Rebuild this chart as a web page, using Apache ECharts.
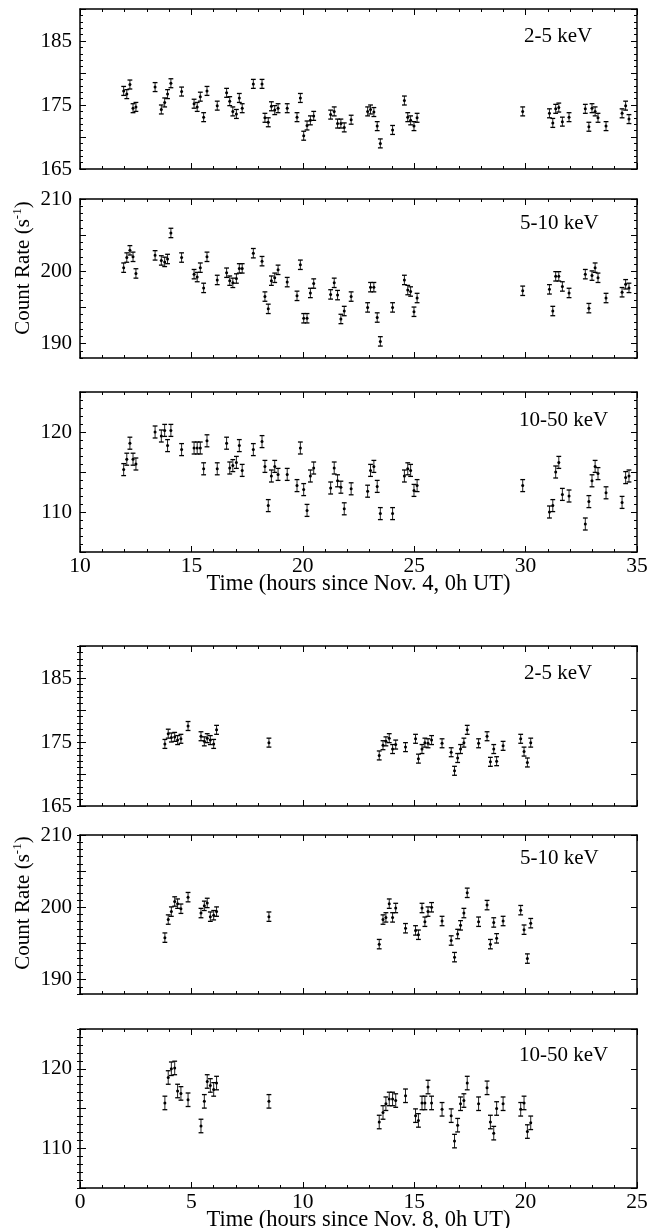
<!DOCTYPE html>
<html>
<head>
<meta charset="utf-8">
<title>X-ray light curves, Nov. 4 and Nov. 8</title>
<script src="https://cdn.jsdelivr.net/npm/echarts@6/dist/echarts.min.js"></script>
<style>
  html, body { margin: 0; padding: 0; background: #fff; }
  #chart { width: 649px; height: 1228px; }
</style>
</head>
<body>
<div id="chart"></div>
<script>
// ---- Nov. 4 observation (hours since Nov. 4, 0h UT) ----
const timeNov4 = [11.96, 12.10, 12.24, 12.38, 12.51, 13.37, 13.65, 13.80, 13.93, 14.08,
  14.56, 15.12, 15.26, 15.40, 15.55, 15.70, 16.16, 16.58, 16.72, 16.86,
  17.02, 17.15, 17.28, 17.78, 18.17, 18.30, 18.45, 18.59, 18.74, 18.89,
  19.30, 19.74, 19.89, 20.04, 20.19, 20.34, 20.49, 21.25, 21.41, 21.56,
  21.71, 21.86, 22.17, 22.91, 23.04, 23.19, 23.34, 23.48, 24.03, 24.56,
  24.71, 24.84, 24.99, 25.13, 29.87, 31.07, 31.22, 31.35, 31.49, 31.65,
  31.95, 32.68, 32.84, 32.98, 33.12, 33.25, 33.61, 34.33, 34.49, 34.64];

const rateNov4_2_5 = [177.2, 176.7, 178.2, 174.5, 174.7, 177.8, 174.3, 175.4, 176.7, 178.4,
  177.1, 175.2, 174.7, 176.3, 173.1, 177.2, 174.9, 176.9, 175.6, 174.0,
  173.6, 176.1, 174.5, 178.3, 178.3, 173.0, 172.3, 174.8, 174.2, 174.5,
  174.5, 173.1, 176.1, 170.2, 171.8, 172.6, 173.3, 173.5, 174.0, 172.1,
  172.1, 171.5, 172.7, 174.0, 174.3, 173.9, 171.7, 169.0, 171.1, 175.7,
  173.1, 172.6, 171.7, 173.0, 174.0, 173.7, 172.2, 174.4, 174.6, 172.4,
  173.1, 174.4, 171.6, 174.5, 174.0, 173.0, 171.7, 173.7, 174.9, 172.8];

const rateNov4_5_10 = [200.5, 201.9, 202.9, 202.0, 199.7, 202.2, 201.5, 201.3, 201.7, 205.3,
  201.9, 199.6, 199.2, 200.5, 197.7, 202.0, 198.8, 199.8, 198.7, 198.4,
  199.0, 200.4, 200.4, 202.5, 201.4, 196.5, 194.8, 198.7, 199.1, 200.2,
  198.5, 196.6, 200.9, 193.5, 193.5, 197.0, 198.3, 196.8, 198.4, 196.7,
  193.4, 194.5, 196.5, 195.0, 197.8, 197.8, 193.6, 190.3, 195.0, 198.8,
  197.4, 197.2, 194.4, 196.3, 197.3, 197.5, 194.5, 199.3, 199.3, 197.9,
  197.0, 199.6, 194.9, 199.4, 200.5, 199.1, 196.3, 197.1, 198.2, 197.7];

const rateNov4_10_50 = [115.3, 116.6, 118.6, 116.6, 116.0, 120.0, 119.5, 120.2, 118.3, 120.2,
  117.8, 118.0, 118.0, 118.0, 115.4, 118.9, 115.4, 118.6, 115.5, 115.8,
  116.2, 118.3, 115.2, 117.8, 118.8, 115.7, 110.8, 114.5, 115.7, 114.7,
  114.7, 113.3, 118.0, 112.8, 110.2, 114.5, 115.5, 113.0, 115.5, 113.9,
  113.1, 110.4, 112.9, 112.6, 115.2, 115.7, 113.2, 109.8, 109.8, 114.5,
  115.4, 115.2, 112.7, 113.3, 113.3, 110.0, 110.8, 115.0, 116.2, 112.2,
  112.0, 108.5, 111.3, 113.9, 115.7, 114.8, 112.4, 111.2, 114.3, 114.5];

// ---- Nov. 8 observation (hours since Nov. 8, 0h UT) ----
const timeNov8 = [3.81, 3.96, 4.10, 4.25, 4.38, 4.53, 4.85, 5.43, 5.58, 5.71,
  5.85, 6.00, 6.13, 8.48, 13.43, 13.60, 13.73, 13.88, 14.03, 14.17,
  14.61, 15.06, 15.19, 15.35, 15.48, 15.62, 15.78, 16.25, 16.66, 16.81,
  16.95, 17.08, 17.23, 17.38, 17.89, 18.27, 18.42, 18.57, 18.70, 18.99,
  19.78, 19.93, 20.08, 20.23];

const rateNov8_2_5 = [174.7, 176.3, 175.7, 175.8, 175.3, 175.5, 177.5, 175.9, 175.1, 175.6,
  175.3, 174.7, 176.9, 174.9, 172.9, 174.5, 175.1, 175.6, 173.9, 174.6,
  174.2, 175.5, 172.4, 173.9, 174.9, 174.8, 175.3, 174.8, 173.4, 170.5,
  172.5, 173.9, 174.9, 176.9, 174.8, 175.9, 171.9, 173.9, 172.0, 174.4,
  175.5, 173.5, 171.8, 174.9];

const rateNov8_5_10 = [195.8, 198.3, 199.4, 200.8, 200.5, 199.8, 201.4, 199.2, 200.2, 200.6,
  198.7, 198.9, 199.4, 198.7, 194.9, 198.3, 198.6, 200.5, 198.6, 199.9,
  197.1, 196.8, 196.2, 199.9, 198.0, 199.4, 200.0, 198.1, 195.4, 193.1,
  196.3, 197.5, 199.2, 202.0, 198.0, 200.3, 194.9, 197.9, 195.7, 198.1,
  199.6, 196.9, 192.9, 197.8];

const rateNov8_10_50 = [115.7, 118.9, 120.0, 120.1, 117.2, 116.9, 116.1, 112.8, 115.9, 118.4,
  117.9, 117.4, 118.2, 115.9, 113.3, 114.5, 115.6, 116.2, 116.2, 116.0,
  116.6, 114.1, 113.5, 115.7, 115.7, 117.7, 115.7, 114.9, 114.1, 110.9,
  112.9, 115.6, 116.0, 118.2, 115.6, 117.6, 113.3, 111.9, 115.0, 115.6,
  114.9, 115.7, 112.1, 113.2];

// 1-sigma errors (counts/s) per band
const errNov4_2_5 = 0.7, errNov4_5_10 = 0.65, errNov4_10_50 = 0.75;
const errNov8_2_5 = 0.7, errNov8_5_10 = 0.65, errNov8_10_50 = 0.85;

const bandLabels = ['2-5 keV', '5-10 keV', '10-50 keV'];
const timeTitles = ['Time (hours since Nov. 4, 0h UT)', 'Time (hours since Nov. 8, 0h UT)'];

// axis ranges and tick values
const xRangeNov4 = [10, 35];
const xRangeNov8 = [0, 25];
const yRange2_5 = [165, 190], yMajor2_5 = [165, 170, 175, 180, 185, 190], yLabels2_5 = [165, 175, 185];
const yRange5_10 = [188, 210], yMajor5_10 = [190, 195, 200, 205, 210], yLabels5_10 = [190, 200, 210];
const yRange10_50 = [105, 125], yMajor10_50 = [105, 110, 115, 120, 125], yLabels10_50 = [110, 120];

function integersIn(r) {
  const out = [];
  for (let v = r[0]; v <= r[1]; v++) out.push(v);
  return out;
}

const FONT = '"Liberation Serif", "Times New Roman", Times, serif';

const bands = [
  { range: yRange2_5, major: yMajor2_5, labels: yLabels2_5 },
  { range: yRange5_10, major: yMajor5_10, labels: yLabels5_10 },
  { range: yRange10_50, major: yMajor10_50, labels: yLabels10_50 }
];

const panels = [
  { t: timeNov4, r: rateNov4_2_5,   e: errNov4_2_5,   band: 0, xr: xRangeNov4, title: null },
  { t: timeNov4, r: rateNov4_5_10,  e: errNov4_5_10,  band: 1, xr: xRangeNov4, title: null },
  { t: timeNov4, r: rateNov4_10_50, e: errNov4_10_50, band: 2, xr: xRangeNov4, title: timeTitles[0] },
  { t: timeNov8, r: rateNov8_2_5,   e: errNov8_2_5,   band: 0, xr: xRangeNov8, title: null },
  { t: timeNov8, r: rateNov8_5_10,  e: errNov8_5_10,  band: 1, xr: xRangeNov8, title: null },
  { t: timeNov8, r: rateNov8_10_50, e: errNov8_10_50, band: 2, xr: xRangeNov8, title: timeTitles[1] }
];

// panel frames (pixels)
const frames = [
  { top: 9, height: 160, labelY: 36 },
  { top: 199, height: 159, labelY: 223 },
  { top: 392, height: 160, labelY: 420 },
  { top: 646, height: 160, labelY: 673 },
  { top: 835, height: 159, labelY: 858 },
  { top: 1029, height: 159, labelY: 1055 }
];
const bandLabelX = [524, 520, 519];

// error bar with caps and a dot at the measured value
function renderErrBar(params, api) {
  const x = api.value(0), y = api.value(1), e = api.value(2);
  const hi = api.coord([x, y + e]);
  const lo = api.coord([x, y - e]);
  const c = api.coord([x, y]);
  const w = 2.4;
  return {
    type: 'group',
    children: [
      { type: 'line', shape: { x1: c[0], y1: hi[1], x2: c[0], y2: lo[1] }, style: { stroke: '#222', lineWidth: 1 } },
      { type: 'line', shape: { x1: c[0] - w, y1: hi[1], x2: c[0] + w, y2: hi[1] }, style: { stroke: '#000', lineWidth: 1.3 } },
      { type: 'line', shape: { x1: c[0] - w, y1: lo[1], x2: c[0] + w, y2: lo[1] }, style: { stroke: '#000', lineWidth: 1.3 } },
      { type: 'circle', shape: { cx: c[0], cy: c[1], r: 1.5 }, style: { fill: '#000' } }
    ]
  };
}

const option = {
  animation: false,
  backgroundColor: '#fff',
  grid: [], xAxis: [], yAxis: [], series: [], graphic: []
};

const axisLineStyle = { color: '#000', width: 1.5 };
const tickLine = { color: '#000', width: 1 };

panels.forEach((p, i) => {
  const f = frames[i];
  const b = bands[p.band];
  option.grid.push({
    left: 80, right: 12, top: f.top, height: f.height, show: false,
    containLabel: false, outerBoundsMode: 'none'
  });

  const xBase = {
    type: 'value', gridIndex: i, min: p.xr[0], max: p.xr[1], interval: 5,
    axisLine: { show: true, onZero: false, lineStyle: axisLineStyle },
    axisTick: { show: true, inside: true, length: 6, lineStyle: tickLine },
    minorTick: { show: true, splitNumber: 5, length: 3, lineStyle: tickLine },
    splitLine: { show: false }, minorSplitLine: { show: false }
  };
  option.xAxis.push(Object.assign({}, xBase, {
    position: 'bottom',
    axisLabel: { show: !!p.title, fontFamily: FONT, fontSize: 21.5, color: '#000', margin: 3 },
    name: p.title || '', nameLocation: 'middle', nameGap: 21, nameMoveOverlap: false,
    nameTextStyle: { fontFamily: FONT, fontSize: 22.5, color: '#000' }
  }));
  option.xAxis.push(Object.assign({}, xBase, { position: 'top', axisLabel: { show: false } }));

  const minor = integersIn(b.range);
  const yMajorAxis = (pos, withLabels) => ({
    type: 'value', gridIndex: i, position: pos, min: b.range[0], max: b.range[1],
    axisLine: { show: true, onZero: false, lineStyle: axisLineStyle },
    axisTick: { show: true, inside: true, length: 6, customValues: b.major, lineStyle: tickLine },
    axisLabel: withLabels
      ? { show: true, customValues: b.labels, fontFamily: FONT, fontSize: 21, color: '#000', margin: 8 }
      : { show: false },
    splitLine: { show: false }
  });
  const yMinorAxis = (pos) => ({
    type: 'value', gridIndex: i, position: pos, min: b.range[0], max: b.range[1],
    axisLine: { show: false },
    axisTick: { show: true, inside: true, length: 3, customValues: minor, lineStyle: tickLine },
    axisLabel: { show: false },
    splitLine: { show: false }
  });
  option.yAxis.push(yMajorAxis('left', true), yMinorAxis('left'), yMajorAxis('right', false), yMinorAxis('right'));

  option.series.push({
    type: 'custom',
    xAxisIndex: 2 * i, yAxisIndex: 4 * i,
    renderItem: renderErrBar,
    silent: true,
    data: p.t.map((t, k) => [t, p.r[k], p.e])
  });

  option.graphic.push({
    type: 'text', x: bandLabelX[p.band], y: f.labelY, silent: true,
    style: { text: bandLabels[p.band], fontFamily: FONT, fontSize: 21, fill: '#000', align: 'left', verticalAlign: 'middle' }
  });
});

// vertical axis titles
[268, 903].forEach((cy) => {
  option.graphic.push({
    type: 'text', x: 23, y: cy, rotation: Math.PI / 2, silent: true,
    style: {
      text: '{a|Count Rate (s}{b|-1}{a|)}',
      align: 'center', verticalAlign: 'middle', fill: '#000',
      rich: {
        a: { fontFamily: FONT, fontSize: 21, lineHeight: 24, fill: '#000' },
        b: { fontFamily: FONT, fontSize: 13, verticalAlign: 'top', fill: '#000' }
      }
    }
  });
});

const chart = echarts.init(document.getElementById('chart'), null, { renderer: 'canvas' });
chart.setOption(option);
</script>
</body>
</html>
